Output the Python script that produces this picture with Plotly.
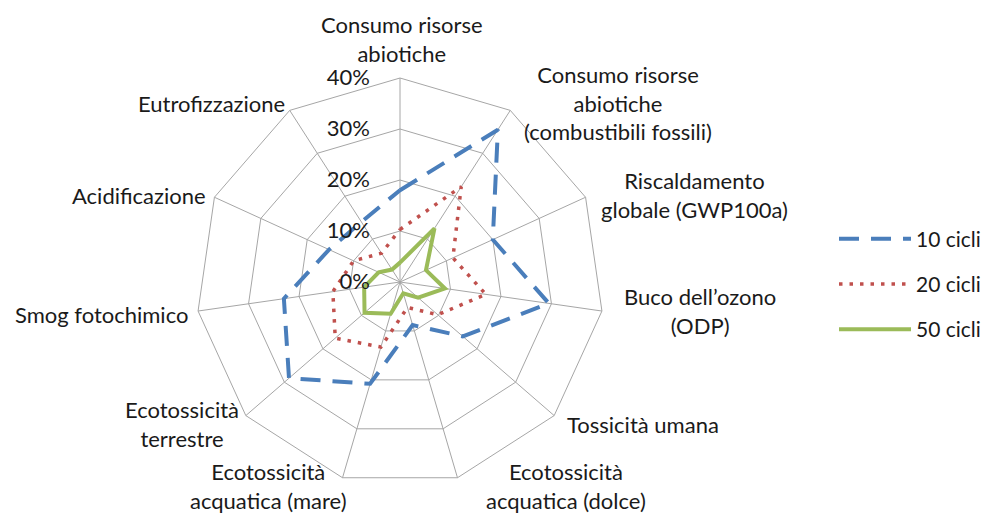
import plotly.graph_objects as go

categorie = [
    "Consumo risorse<br>abiotiche",
    "Consumo risorse<br>abiotiche<br>(combustibili fossili)",
    "Riscaldamento<br>globale (GWP100a)",
    "Buco dell\u2019ozono<br>(ODP)",
    "Tossicità umana",
    "Ecotossicità<br>acquatica (dolce)",
    "Ecotossicità<br>acquatica (mare)",
    "Ecotossicità<br>terrestre",
    "Smog fotochimico",
    "Acidificazione",
    "Eutrofizzazione",
]

cicli_10 = [0.18, 0.355, 0.20, 0.295, 0.163, 0.088, 0.208, 0.288, 0.23, 0.153, 0.14]
cicli_20 = [0.103, 0.222, 0.114, 0.17, 0.098, 0.052, 0.133, 0.168, 0.133, 0.10, 0.067]
cicli_50 = [0.038, 0.125, 0.056, 0.089, 0.047, 0.023, 0.065, 0.092, 0.071, 0.046, 0.029]

radial_ticks = [0, 0.1, 0.2, 0.3, 0.4]

# where each category label sits (pixels, from the top-left of the 992x515 page)
pos_etichette = [
    (394, 31), (610, 95), (686, 187), (692, 303), (635, 416), (558, 478),
    (260, 478), (174, 416), (93, 306), (131, 187), (203, 95),
]

serie = [
    ("10 cicli", cicli_10, dict(color="#4A7EBB", width=4, dash="20px,12px")),
    ("20 cicli", cicli_20, dict(color="#C0504D", width=3.5, dash="3.5px,7px")),
    ("50 cicli", cicli_50, dict(color="#9BBB59", width=4, dash="solid")),
]

W, H = 992, 515

fig = go.Figure()
for nome, valori, linea in serie:
    fig.add_trace(go.Scatterpolar(
        r=valori + valori[:1],
        theta=categorie + categorie[:1],
        mode="lines",
        name=nome,
        legendgroup=nome,
        line=linea,
    ))

annotazioni = [
    dict(text=testo, x=px / W, y=1 - py / H, xref="paper", yref="paper",
         xanchor="center", yanchor="middle", showarrow=False,
         font=dict(size=22))
    for testo, (px, py) in zip(categorie, pos_etichette)
]

grigio = "#A6A6A6"
fig.update_layout(
    width=W, height=H,
    margin=dict(l=0, r=0, t=0, b=0),
    paper_bgcolor="white",
    font=dict(family="Lato", size=22, color="#1A1A1A"),
    annotations=annotazioni,
    polar=dict(
        domain=dict(x=[188 / W, 596 / W], y=[37 / H, 445 / H]),
        bgcolor="white",
        gridshape="linear",
        angularaxis=dict(
            direction="clockwise", rotation=90,
            showline=True, linecolor=grigio, linewidth=1,
            gridcolor=grigio, gridwidth=1, ticks="",
            showticklabels=False,
        ),
        radialaxis=dict(
            range=[0, 0.4], tickvals=radial_ticks, tickformat=".0%",
            angle=90, tickangle=90, side="counterclockwise",
            showline=False, ticks="outside", ticklen=22,
            tickcolor="rgba(0,0,0,0)",
            gridcolor=grigio, gridwidth=1,
            tickfont=dict(size=22),
        ),
    ),
    legend=dict(
        x=826 / W, y=1 - 276 / H, xanchor="left", yanchor="middle",
        font=dict(size=21), itemwidth=72, tracegroupgap=15,
    ),
)

fig.write_html("out.html")
